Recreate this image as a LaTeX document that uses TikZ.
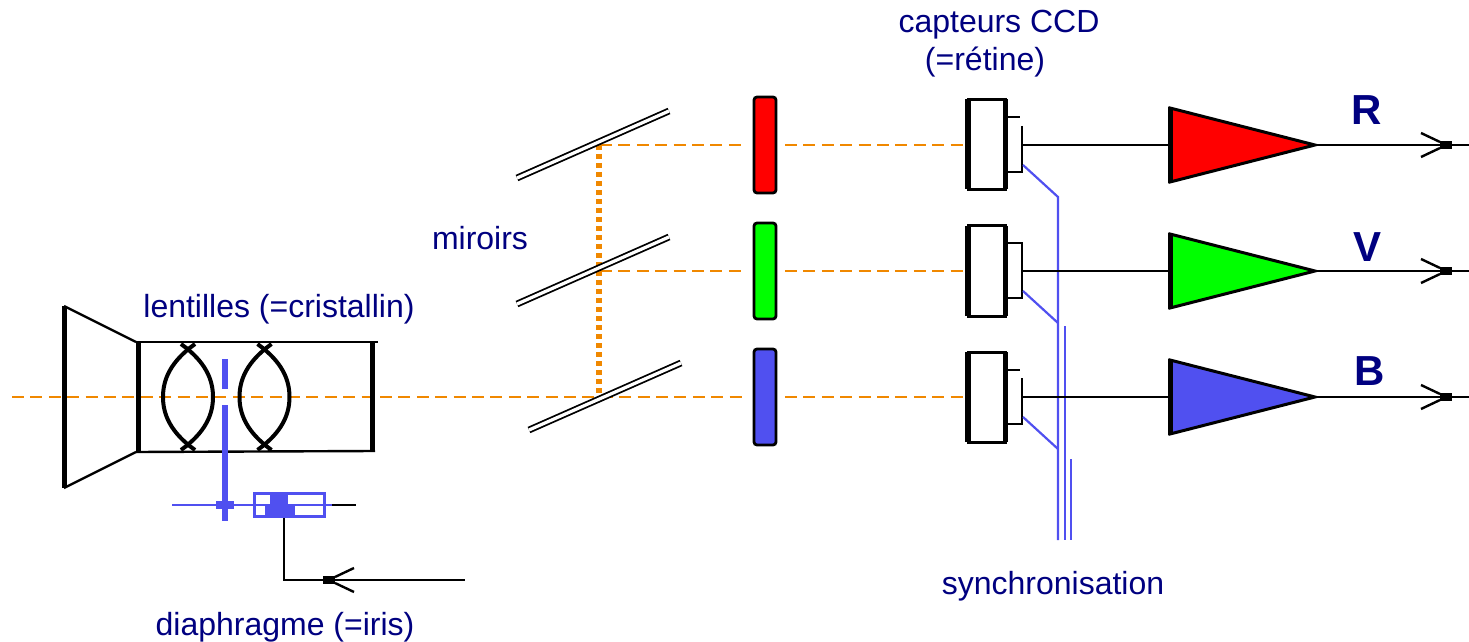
\documentclass[tikz,border=0pt]{standalone}
\usepackage{fontspec}
\setmainfont{Liberation Sans}
\usetikzlibrary{positioning}
\usetikzlibrary{calc}
\definecolor{colorRed}{RGB}{255,0,0}
\definecolor{colorGreen}{RGB}{0,255,0}
\definecolor{colorBlue}{RGB}{80,80,240}
\definecolor{colorBeam}{RGB}{240,136,0}
\definecolor{colorText}{RGB}{0,0,128}
\tikzset{
   beam/.style={color=colorBeam,line width=1.4pt,dash pattern=on 6pt off 3.2pt},
   beamv/.style={color=colorBeam,line width=3pt,dash pattern=on 2.5pt off 2pt},
   wire/.style={color=black,line width=1.2pt},
   thickwire/.style={color=black,line width=2.5pt},
   sync/.style={color=colorBlue,line width=1.1pt},
   stop/.style={color=colorBlue,line width=3pt},
   mirror/.style={double=white,draw=black,line width=.9pt,double distance=1.6pt},
   lensline/.style={color=black,line width=2pt},
   filterbox/.style={rectangle,draw=black,line width=1.4pt,rounded corners=1.5pt,
     minimum width=11pt,minimum height=48pt,inner sep=0pt},
   ccdbox/.style={rectangle,draw=black,line width=1.5pt,fill=white,outer sep=0pt,
     minimum width=18.75pt,minimum height=45pt,inner sep=0pt},
   label/.style={color=colorText,font=\fontsize{16}{18}\selectfont,inner sep=0pt},
   channel/.style={color=colorText,font=\fontsize{21}{24}\selectfont\bfseries,inner sep=0pt},
}
\newcommand{\lens}[1]{
  \begin{scope}[shift={(#1,0)}]
    \draw[lensline] (7,344) .. controls (-18,362) and (-25,380) .. (-25,397)
      .. controls (-25,414) and (-18,432) .. (7,450);
    \draw[lensline] (-7,344) .. controls (18,362) and (25,380) .. (25,397)
      .. controls (25,414) and (18,432) .. (-7,450);
  \end{scope}
}
\newcommand{\jack}[2]{
  \begin{scope}[shift={(#1)},xscale=#2]
    \fill[black] (-6,-4) rectangle (6,4);
    \draw[wire] (-6,-3) -- (-25,-12);
    \draw[wire] (-6,3) -- (-25,12);
  \end{scope}
}
\newcommand{\amp}[3]{
  \draw[thickwire,line width=1.5pt,fill=#2,line join=miter] ($(#1)+(0,-37)$) -- (#3) -- ($(#1)+(0,37)$) -- cycle;
  \draw[thickwire] ($(#1)+(0,-38)$) -- ($(#1)+(0,38)$);
}
\begin{document}
\begin{tikzpicture}[x=0.5pt,y=-0.5pt]
  \useasboundingbox (0,0) rectangle (1469,642);

  % faisceaux
  \draw[beam] (12,397) -- (745,397);
  \draw[beam] (785,397) -- (965,397);
  \draw[beam] (600,145) -- (745,145);
  \draw[beam] (785,145) -- (965,145);
  \draw[beam] (600,271) -- (745,271);
  \draw[beam] (785,271) -- (965,271);
  \draw[beamv] (599,145) -- (599,397);

  % objectif
  \coordinate (hornT) at (64,306);
  \coordinate (hornB) at (64,488);
  \coordinate (tubeT) at (136,342);
  \coordinate (tubeB) at (136,452);
  \draw[thickwire] (hornT) -- (hornB);
  \draw[wire] (hornT) -- (tubeT);
  \draw[wire] (hornB) -- (tubeB);
  \draw[wire] (tubeT) -- (378,342);
  \draw[wire] (tubeB) -- (375,451);
  \draw[thickwire] (138.5,342) -- (138.5,452);
  \draw[thickwire] (372,342) -- (372,452);
  \lens{188}
  \lens{264.5}

  % diaphragme
  \draw[stop] (224.5,359) -- (224.5,389);
  \draw[stop] (224.5,405) -- (224.5,521);
  \draw[sync] (172,505) -- (332,505);
  \fill[colorBlue] (215.5,501) rectangle (233.5,509);
  \node[rectangle,draw=colorBlue,line width=1.5pt,minimum width=35pt,minimum height=11.5pt,inner sep=0pt] (iris) at (289,505) {};
  \fill[colorBlue] (270,493) rectangle (288,505);
  \fill[colorBlue] (265,505) rectangle (295,517);
  \coordinate (irisR) at (332,505);
  \coordinate (irisS) at (356,505);
  \coordinate (irisB) at (284,518);
  \coordinate (irisC) at (284,580);
  \coordinate (irisE) at (465,580);
  \draw[wire] (irisR) -- (irisS);
  \draw[wire] (irisB) -- (irisC) -- (irisE);
  \jack{329,580}{-1}

  % miroirs
  \draw[mirror] (517,178) -- (669,111);
  \draw[mirror] (517,304) -- (669,237);
  \draw[mirror] (529,430) -- (681,363);

  % filtres
  \node[filterbox,fill=colorRed] (filterR) at (765,145) {};
  \node[filterbox,fill=colorGreen] (filterV) at (765,271) {};
  \node[filterbox,fill=colorBlue] (filterB) at (765,397) {};

  % capteurs
  \node[ccdbox] (ccdR) at (986.75,144.5) {};
  \node[ccdbox] (ccdV) at (986.75,271) {};
  \node[ccdbox] (ccdB) at (986.75,397) {};
  \draw[thickwire,line width=3pt] (ccdR.north west) -- (ccdR.south west);
  \draw[thickwire] (ccdR.north east) -- (ccdR.south east);
  \draw[thickwire,line width=3pt] (ccdV.north west) -- (ccdV.south west);
  \draw[thickwire] (ccdV.north east) -- (ccdV.south east);
  \draw[thickwire,line width=3pt] (ccdB.north west) -- (ccdB.south west);
  \draw[thickwire] (ccdB.north east) -- (ccdB.south east);

  % sorties des capteurs
  \draw[wire] (1008,117) -- (1020,117);
  \draw[wire] (1022,126) -- (1022,172) -- (1008,172);
  \draw[wire] (1008,243) -- (1022,243) -- (1022,298) -- (1008,298);
  \draw[wire] (1008,370) -- (1020,370);
  \draw[wire] (1022,378) -- (1022,424) -- (1008,424);

  % synchronisation
  \draw[sync] (1023,165) -- (1058,197) -- (1058,540);
  \draw[sync] (1023,291) -- (1058,323);
  \draw[sync] (1065,326) -- (1065,540);
  \draw[sync] (1023,417) -- (1058,449);
  \draw[sync] (1071,459) -- (1071,540);

  % amplis
  \coordinate (ampR) at (1170,145);
  \coordinate (ampV) at (1170,271);
  \coordinate (ampB) at (1170,397);
  \coordinate (tipR) at (1315,145);
  \coordinate (tipV) at (1315,271);
  \coordinate (tipB) at (1315,397);
  \coordinate (outR) at (1469,145);
  \coordinate (outV) at (1469,271);
  \coordinate (outB) at (1469,397);
  \draw[wire] (1022,145) -- (ampR);
  \draw[wire] (1022,271) -- (ampV);
  \draw[wire] (1022,397) -- (ampB);
  \amp{ampR}{colorRed}{tipR}
  \amp{ampV}{colorGreen}{tipV}
  \amp{ampB}{colorBlue}{tipB}
  \draw[wire] (tipR) -- (outR);
  \draw[wire] (tipV) -- (outV);
  \draw[wire] (tipB) -- (outB);
  \jack{1446,145}{1}
  \jack{1446,271}{1}
  \jack{1446,397}{1}

  % textes
  \node[label] (lblCCD) at (999,25) {capteurs CCD};
  \node[label] (lblRetine) at (985,62) {(=rétine)};
  \node[label] (lblMiroirs) at (480,238) {miroirs};
  \node[label] (lblLentilles) at (279,309) {lentilles (=cristallin)};
  \node[label] (lblDiaph) at (285,627) {diaphragme (=iris)};
  \node[label] (lblSync) at (1053,586) {synchronisation};
  \node[channel] (lblR) at (1367,110) {R};
  \node[channel] (lblV) at (1367,247) {V};
  \node[channel] (lblB) at (1370,371) {B};
\end{tikzpicture}
\end{document}
